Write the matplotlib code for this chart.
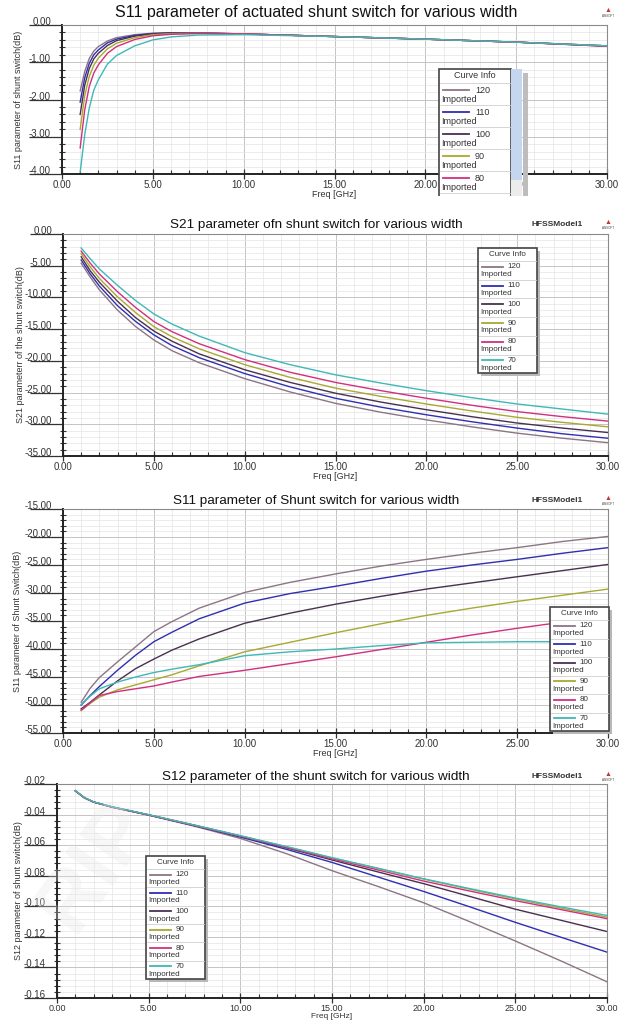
import matplotlib
matplotlib.use("Agg")
import matplotlib.pyplot as plt
from matplotlib.ticker import MultipleLocator, FormatStrFormatter
from matplotlib.patches import Rectangle
from matplotlib.lines import Line2D

plt.rcParams["font.family"] = ["Liberation Sans", "DejaVu Sans"]

# curve names and colours (same order in every panel)
widths = ["120", "110", "100", "90", "80", "70"]
colors = ["#8c7585", "#2f2fb0", "#4a3050", "#a9a832", "#d0307f", "#3fb8b8"]

# S11 of actuated switch (dB)
freq_s11a = [1, 1.25, 1.5, 1.75, 2, 2.5, 3, 4, 5, 6, 7.5, 10, 15, 20, 25, 30]
s11a_120 = [-1.77, -1.25, -0.90, -0.70, -0.58, -0.43, -0.34, -0.26, -0.22, -0.21, -0.21, -0.24, -0.31, -0.38, -0.46, -0.56]
s11a_110 = [-2.07, -1.42, -1.03, -0.80, -0.67, -0.48, -0.38, -0.28, -0.23, -0.21, -0.21, -0.24, -0.31, -0.38, -0.46, -0.56]
s11a_100 = [-2.40, -1.62, -1.17, -0.91, -0.76, -0.55, -0.42, -0.30, -0.24, -0.22, -0.22, -0.24, -0.31, -0.38, -0.46, -0.57]
s11a_90 = [-2.80, -1.90, -1.38, -1.08, -0.89, -0.64, -0.49, -0.34, -0.26, -0.23, -0.22, -0.24, -0.31, -0.38, -0.46, -0.56]
s11a_80 = [-3.30, -2.28, -1.65, -1.29, -1.07, -0.76, -0.58, -0.39, -0.29, -0.25, -0.23, -0.24, -0.31, -0.38, -0.46, -0.57]
s11a_70 = [-3.95, -2.95, -2.23, -1.75, -1.47, -1.05, -0.82, -0.56, -0.40, -0.32, -0.27, -0.26, -0.31, -0.38, -0.46, -0.56]

# S21 (dB)
freq_s21 = [1, 1.5, 2, 3, 4, 5, 6, 7.5, 10, 12.5, 15, 17.5, 20, 22.5, 25, 27.5, 30]
s21_120 = [-4.6, -6.8, -8.8, -12.0, -14.6, -16.7, -18.4, -20.3, -22.8, -24.9, -26.7, -28.1, -29.3, -30.4, -31.4, -32.2, -32.9]
s21_110 = [-4.1, -6.3, -8.2, -11.3, -13.8, -15.9, -17.6, -19.5, -22.0, -24.1, -25.9, -27.3, -28.5, -29.6, -30.6, -31.5, -32.2]
s21_100 = [-3.6, -5.8, -7.6, -10.6, -13.2, -15.3, -16.9, -18.9, -21.4, -23.4, -25.1, -26.5, -27.7, -28.8, -29.8, -30.6, -31.3]
s21_90 = [-3.1, -5.2, -7.0, -9.9, -12.4, -14.6, -16.2, -18.1, -20.6, -22.6, -24.3, -25.6, -26.8, -27.9, -28.9, -29.7, -30.4]
s21_80 = [-2.7, -4.6, -6.3, -9.1, -11.6, -13.8, -15.4, -17.3, -19.8, -21.8, -23.4, -24.7, -25.9, -27.0, -28.0, -28.8, -29.5]
s21_70 = [-2.2, -3.9, -5.5, -8.1, -10.5, -12.6, -14.2, -16.1, -18.7, -20.6, -22.2, -23.5, -24.7, -25.8, -26.8, -27.6, -28.4]

# S11 (dB)
freq_s11 = [1, 1.5, 2, 3, 4, 5, 6, 7.5, 10, 12.5, 15, 17.5, 20, 22.5, 25, 27.5, 30]
s11_120 = [-49.5, -47.0, -45.1, -42.3, -39.6, -36.9, -35.1, -32.7, -29.9, -28.1, -26.6, -25.2, -24.0, -22.9, -21.9, -20.8, -19.9]
s11_110 = [-50.0, -48.3, -46.7, -43.8, -41.1, -38.7, -37.0, -34.6, -31.8, -30.1, -28.8, -27.4, -26.1, -25.0, -24.0, -22.9, -21.9]
s11_100 = [-50.7, -49.5, -48.2, -45.7, -43.5, -41.8, -40.2, -38.2, -35.4, -33.6, -32.0, -30.6, -29.3, -28.2, -27.1, -26.0, -24.9]
s11_90 = [-51.0, -49.7, -48.6, -47.3, -46.4, -45.5, -44.6, -43.0, -40.5, -38.8, -37.1, -35.5, -34.0, -32.7, -31.5, -30.4, -29.3]
s11_80 = [-50.9, -49.6, -48.3, -47.6, -47.1, -46.6, -45.9, -44.9, -43.8, -42.6, -41.4, -40.1, -38.8, -37.5, -36.3, -35.2, -34.3]
s11_70 = [-49.9, -48.4, -47.1, -45.9, -45.0, -44.2, -43.6, -42.8, -41.2, -40.5, -40.0, -39.4, -38.9, -38.8, -38.7, -38.7, -38.9]

# S12 (dB)
freq_s12 = [1, 1.5, 2, 3, 4, 5, 7.5, 10, 12.5, 15, 17.5, 20, 22.5, 25, 27.5, 30]
s12_120 = [-0.0245, -0.0291, -0.0319, -0.0352, -0.0378, -0.0404, -0.0476, -0.0556, -0.0655, -0.0767, -0.0870, -0.0977, -0.1100, -0.1227, -0.1358, -0.1494]
s12_110 = [-0.0245, -0.0291, -0.0318, -0.0351, -0.0377, -0.0403, -0.0473, -0.0547, -0.0627, -0.0713, -0.0808, -0.0903, -0.1003, -0.1105, -0.1203, -0.1300]
s12_100 = [-0.0244, -0.0290, -0.0318, -0.0350, -0.0376, -0.0402, -0.0470, -0.0541, -0.0617, -0.0697, -0.0775, -0.0852, -0.0935, -0.1019, -0.1092, -0.1165]
s12_90 = [-0.0244, -0.0290, -0.0318, -0.0350, -0.0376, -0.0401, -0.0469, -0.0539, -0.0610, -0.0683, -0.0752, -0.0822, -0.0888, -0.0952, -0.1012, -0.1071]
s12_80 = [-0.0245, -0.0291, -0.0318, -0.0351, -0.0377, -0.0402, -0.0471, -0.0541, -0.0614, -0.0690, -0.0762, -0.0835, -0.0900, -0.0963, -0.1022, -0.1081]
s12_70 = [-0.0244, -0.0290, -0.0317, -0.0349, -0.0375, -0.0401, -0.0469, -0.0538, -0.0609, -0.0682, -0.0751, -0.0820, -0.0884, -0.0946, -0.1004, -0.1060]

W, H = 627, 1024
fig = plt.figure(figsize=(W / 100, H / 100), dpi=100)


def fx(x):
    return x / W


def fy(y):
    return 1 - y / H


def panel(left, right, top, bottom):
    return fig.add_axes([fx(left), fy(bottom), (right - left) / W, (bottom - top) / H])


def style_axes(ax, ymin, ymax, ymajor, yminor, ylabel, ylab_x, xlabpad=0, xsize=7):
    ax.set_xlim(0, 30)
    ax.set_ylim(ymin, ymax)
    ax.xaxis.set_major_locator(MultipleLocator(5))
    ax.xaxis.set_minor_locator(MultipleLocator(1))
    ax.yaxis.set_major_locator(MultipleLocator(ymajor))
    ax.yaxis.set_minor_locator(MultipleLocator(yminor))
    ax.xaxis.set_major_formatter(FormatStrFormatter("%.2f"))
    ax.yaxis.set_major_formatter(FormatStrFormatter("%.2f"))
    ax.grid(which="major", color="#c4c4c4", lw=0.7)
    ax.grid(which="minor", color="#e4e4e4", lw=0.5)
    ax.set_axisbelow(True)
    for s in ["left", "bottom"]:
        ax.spines[s].set_color("#222222")
        ax.spines[s].set_linewidth(1.4)
    for s in ["top", "right"]:
        ax.spines[s].set_color("#8a8a8a")
        ax.spines[s].set_linewidth(0.8)
    # long major ticks running under the labels, like the HFSS plots
    ax.tick_params(axis="y", which="major", direction="out", length=24, width=0.9,
                   pad=-16, labelsize=7, colors="#333333")
    ax.tick_params(axis="y", which="minor", direction="inout", length=5, width=0.8, color="#333333")
    ax.tick_params(axis="x", which="major", direction="inout", length=7, width=0.9,
                   pad=1, labelsize=xsize, colors="#333333")
    ax.tick_params(axis="x", which="minor", direction="in", length=3, width=0.8, color="#333333")
    for lab in ax.get_yticklabels():
        lab.set_va("baseline")
    ax.set_xlabel("Freq [GHz]", fontsize=6.5, labelpad=xlabpad, color="#333333")
    ax.set_ylabel(ylabel, fontsize=6.5, color="#333333")
    ax.yaxis.set_label_coords(ylab_x, 0.5)


def header(title, y, size, model=True):
    fig.text(fx(316), fy(y), title, ha="center", va="center", fontsize=size, color="#111111")
    if model:
        fig.text(fx(557), fy(y), "HFSSModel1", ha="center", va="center", fontsize=6,
                 weight="bold", color="#333333")
    fig.text(fx(608), fy(y - 3), "\u25b2", ha="center", va="center", fontsize=5, color="#c0392b")
    fig.text(fx(608), fy(y + 3), "ANSOFT", ha="center", va="center", fontsize=2.2, color="#444444")


def curve_info(x0, y0, w, head, row, fs, shadow=True):
    h = head + row * len(widths)
    if shadow:
        fig.add_artist(Rectangle((fx(x0 + 3), fy(y0 + h + 3)), w / W, h / H, transform=fig.transFigure,
                                 facecolor="#b8b8b8", edgecolor="none", zorder=6))
    fig.add_artist(Rectangle((fx(x0), fy(y0 + h)), w / W, h / H, transform=fig.transFigure,
                             facecolor="white", edgecolor="#444444", lw=1.2, zorder=7))
    fig.text(fx(x0 + w / 2), fy(y0 + head / 2), "Curve Info", ha="center", va="center",
             fontsize=fs, color="#333333", zorder=8)
    for i, (name, c) in enumerate(zip(widths, colors)):
        top = y0 + head + i * row
        fig.add_artist(Line2D([fx(x0 + 1), fx(x0 + w - 1)], [fy(top), fy(top)], transform=fig.transFigure,
                              color="#cfcfcf", lw=0.6, zorder=8))
        ly = fy(top + row * 0.32)
        fig.add_artist(Line2D([fx(x0 + 4), fx(x0 + 0.42 * w)], [ly, ly], transform=fig.transFigure,
                              color=c, lw=1.3, zorder=8))
        fig.text(fx(x0 + 0.5 * w), ly, name, ha="left", va="center", fontsize=fs, color="#333333", zorder=8)
        fig.text(fx(x0 + 2), fy(top + row * 0.74), "Imported", ha="left", va="center",
                 fontsize=fs, color="#333333", zorder=8)


# panel 1: S11 actuated
ax1 = panel(62, 607, 25, 174)
for vals, c in zip([s11a_120, s11a_110, s11a_100, s11a_90, s11a_80, s11a_70], colors):
    ax1.plot(freq_s11a, vals, color=c, lw=1.0)
style_axes(ax1, -4, 0, 1, 0.2, "S11 parameter of shunt switch(dB)", -0.072)
header("S11 parameter of actuated shunt switch for various width", 13, 11.5, model=False)
curve_info(439, 69, 72, 14, 22, 6.5, shadow=False)
# scroll bar next to the legend
fig.add_artist(Rectangle((fx(511), fy(180)), 11 / W, 111 / H, transform=fig.transFigure,
                         facecolor="#c5d6ef", edgecolor="none", zorder=8))
fig.add_artist(Rectangle((fx(511), fy(196)), 11 / W, 16 / H, transform=fig.transFigure,
                         facecolor="#ececec", edgecolor="none", zorder=8))
fig.add_artist(Rectangle((fx(523), fy(196)), 5 / W, 123 / H, transform=fig.transFigure,
                         facecolor="#bdbdbd", edgecolor="none", zorder=8))
# the legend is cut off at the bottom
fig.add_artist(Rectangle((fx(430), fy(216)), 110 / W, 20 / H, transform=fig.transFigure,
                         facecolor="white", edgecolor="none", zorder=9))

# panel 2: S21
ax2 = panel(63, 608, 234, 456)
for vals, c in zip([s21_120, s21_110, s21_100, s21_90, s21_80, s21_70], colors):
    ax2.plot(freq_s21, vals, color=c, lw=1.0)
style_axes(ax2, -35, 0, 5, 1, "S21 parameterr of the shunt switch(dB)", -0.07)
header("S21 parameter ofn shunt switch for various width", 225, 9.7)
curve_info(478, 248, 59, 13, 18.7, 5.8)

# panel 3: S11
ax3 = panel(63, 608, 509, 733)
for vals, c in zip([s11_120, s11_110, s11_100, s11_90, s11_80, s11_70], colors):
    ax3.plot(freq_s11, vals, color=c, lw=1.0)
style_axes(ax3, -55, -15, 5, 1, "S11 parameter of Shunt Switch(dB)", -0.075)
header("S11 parameter of Shunt switch for various width", 501, 9.7)
curve_info(550, 607, 59, 13, 18.5, 5.8)

# panel 4: S12
ax4 = panel(57, 607, 784, 998)
for vals, c in zip([s12_120, s12_110, s12_100, s12_90, s12_80, s12_70], colors):
    ax4.plot(freq_s12, vals, color=c, lw=1.0)
style_axes(ax4, -0.16, -0.02, 0.02, 0.004, "S12 parameter of shunt switch(dB)", -0.062,
           xlabpad=0, xsize=6.5)
ax4.xaxis.label.set_fontsize(6)
header("S12 parameter of the shunt switch for various width", 777, 9.7)
curve_info(146, 856, 59, 13, 18.3, 5.8)

# faint watermark
fig.text(fx(95), fy(865), "RIP", ha="center", va="center", fontsize=60, rotation=55,
         color="#e6e6e6", alpha=0.3, weight="bold", zorder=5)

fig.savefig("out.png", dpi=100)
